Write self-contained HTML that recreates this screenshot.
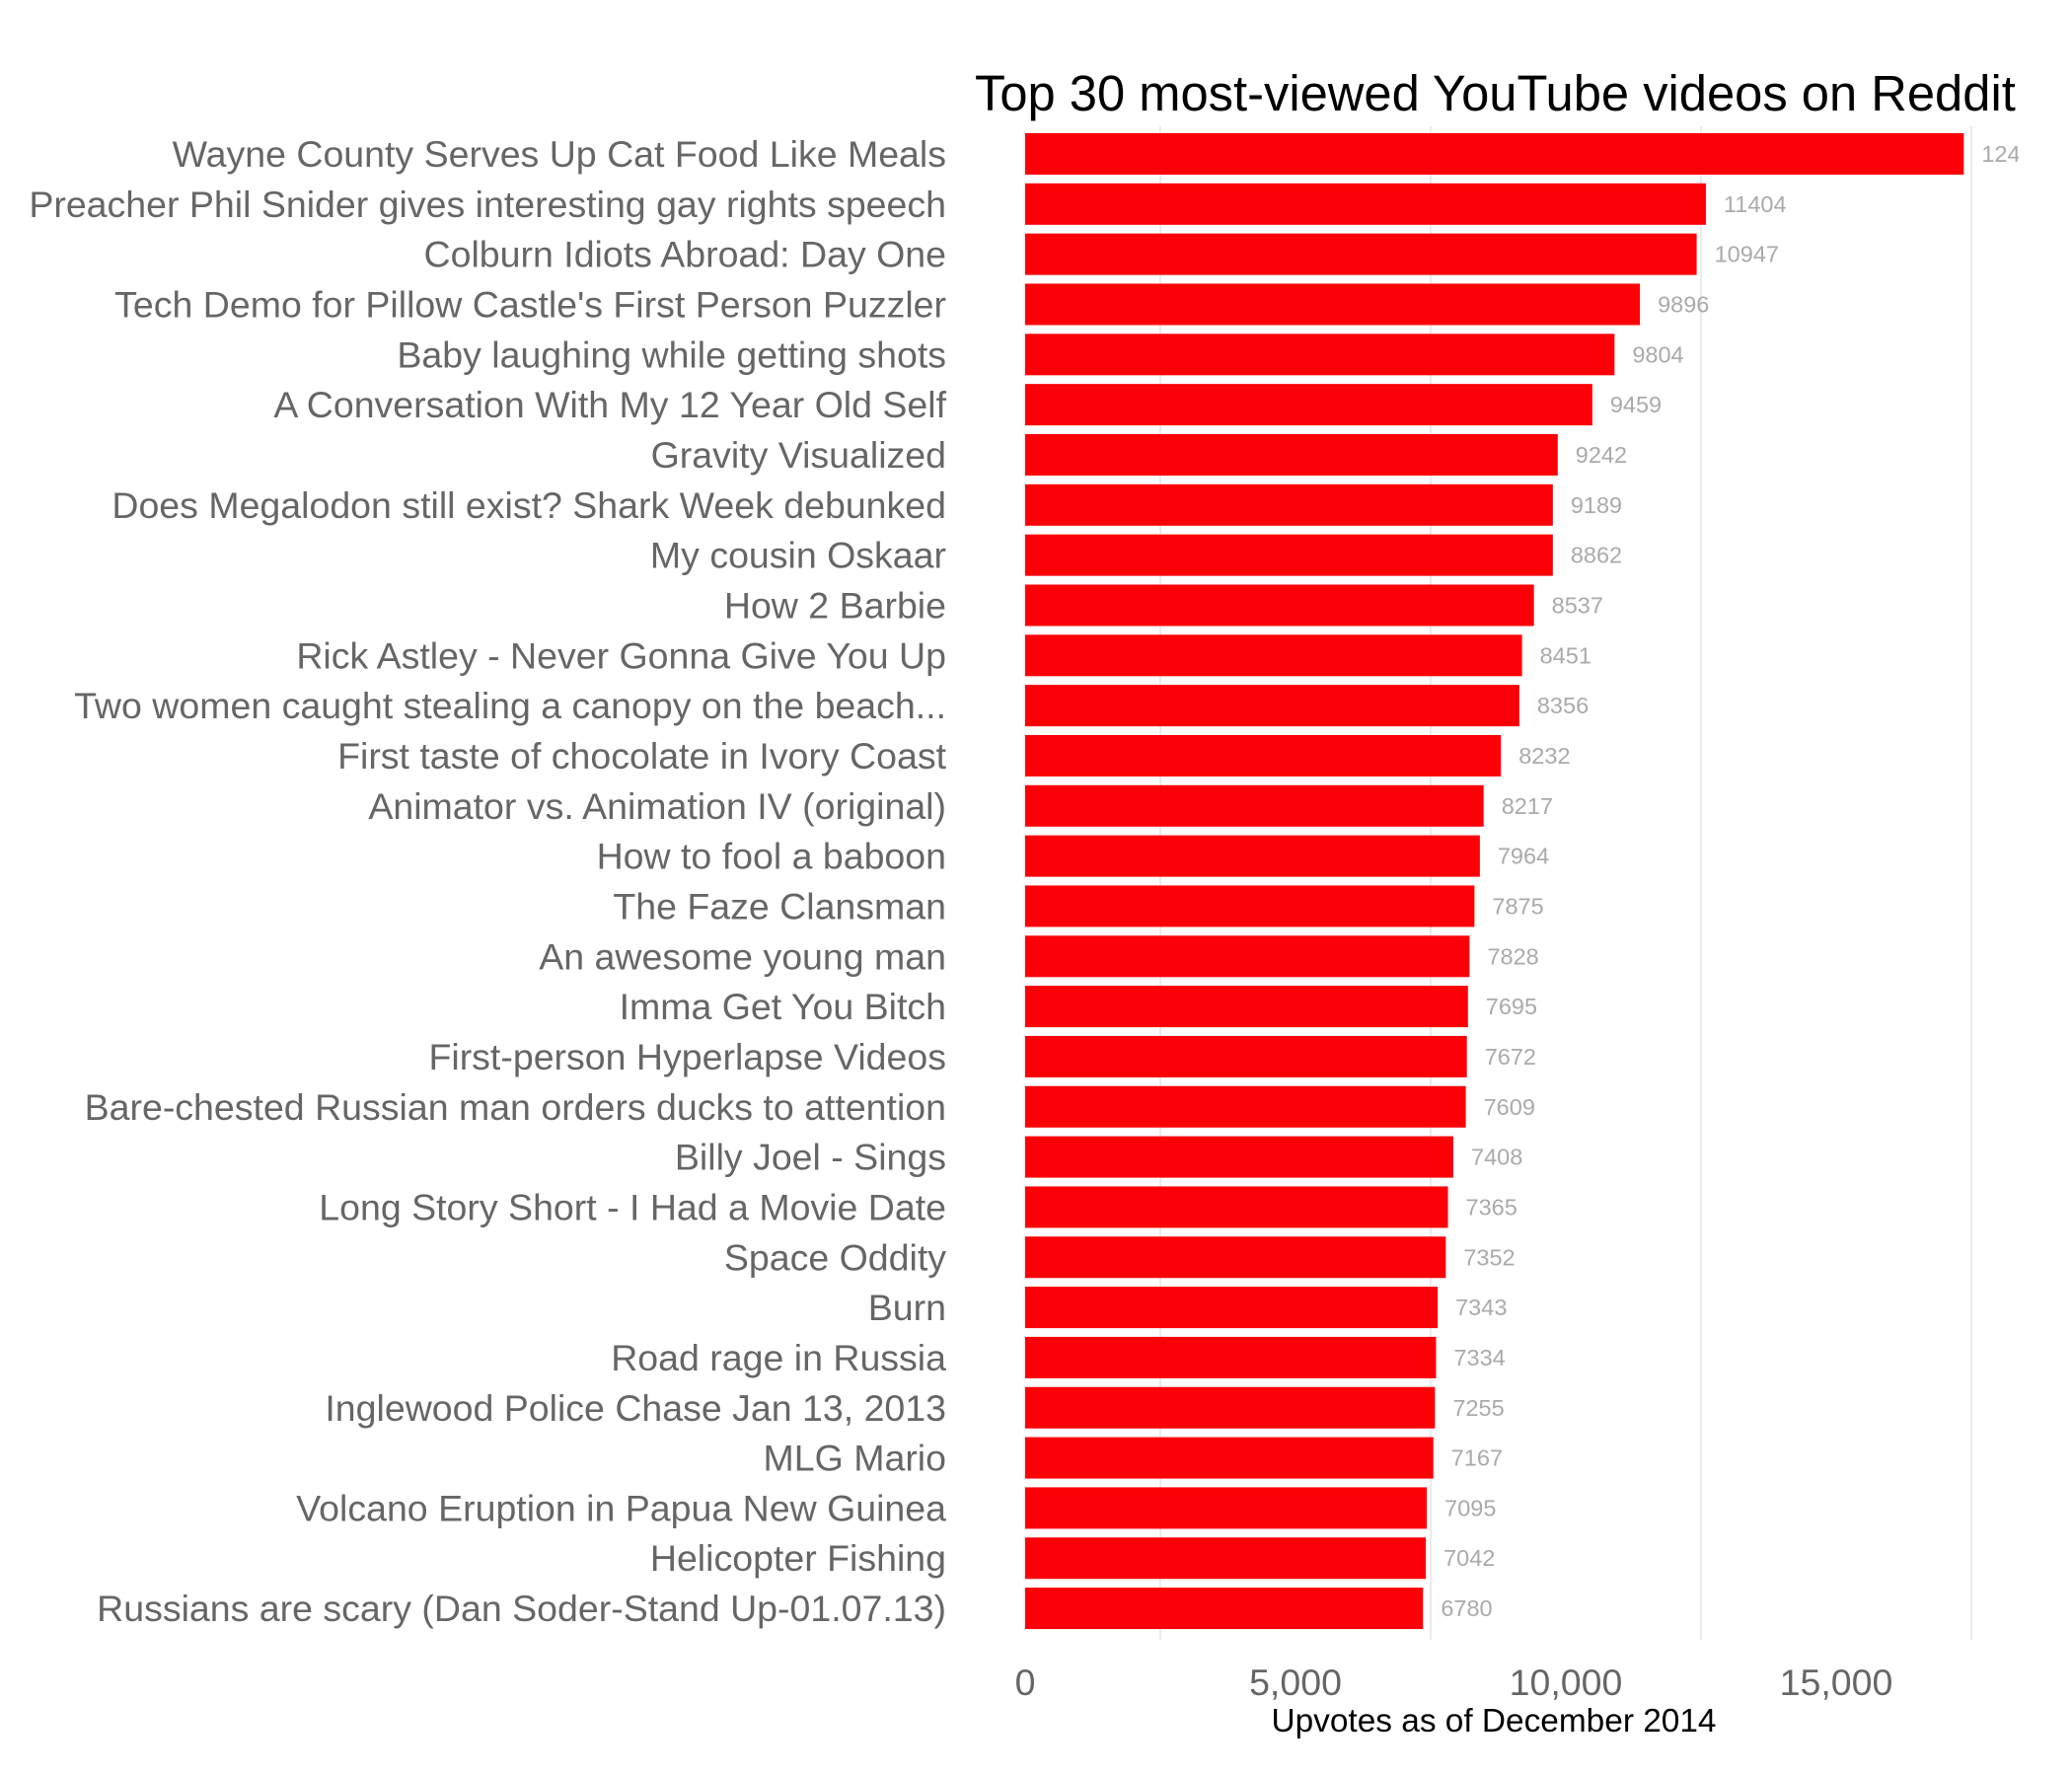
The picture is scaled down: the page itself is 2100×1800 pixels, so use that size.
<!DOCTYPE html>
<html><head><meta charset="utf-8"><style>
html,body{margin:0;padding:0;background:#fff;}
svg{display:block;font-family:"Liberation Sans",Arial,sans-serif;}
</style></head><body>
<svg id="chart" width="2100" height="1800" viewBox="0 0 2100 1800" xmlns="http://www.w3.org/2000/svg">
<defs><clipPath id="plotclip"><rect x="0" y="0" width="2046" height="1800"/></clipPath></defs>
<text x="988" y="112" font-size="50.7" fill="#000">Top 30 most-viewed YouTube videos on Reddit</text>
<g id="grid"></g>
<g id="bars" clip-path="url(#plotclip)"></g>
<g id="cats"></g>
<g id="xticks"></g>
<text x="1514" y="1755" font-size="33.4" fill="#000" text-anchor="middle">Upvotes as of December 2014</text>
</svg>
<script>
const categories = ["Wayne County Serves Up Cat Food Like Meals","Preacher Phil Snider gives interesting gay rights speech","Colburn Idiots Abroad: Day One","Tech Demo for Pillow Castle's First Person Puzzler","Baby laughing while getting shots","A Conversation With My 12 Year Old Self","Gravity Visualized","Does Megalodon still exist? Shark Week debunked","My cousin Oskaar","How 2 Barbie","Rick Astley - Never Gonna Give You Up","Two women caught stealing a canopy on the beach...","First taste of chocolate in Ivory Coast","Animator vs. Animation IV (original)","How to fool a baboon","The Faze Clansman","An awesome young man","Imma Get You Bitch","First-person Hyperlapse Videos","Bare-chested Russian man orders ducks to attention","Billy Joel - Sings","Long Story Short - I Had a Movie Date","Space Oddity","Burn","Road rage in Russia","Inglewood Police Chase Jan 13, 2013","MLG Mario","Volcano Eruption in Papua New Guinea","Helicopter Fishing","Russians are scary (Dan Soder-Stand Up-01.07.13)"];
const barValues = [17360,12590,12420,11370,10900,10490,9850,9760,9760,9410,9190,9140,8800,8480,8410,8310,8220,8190,8170,8150,7920,7820,7780,7630,7600,7580,7550,7430,7410,7360];
const labelValues = [12400,11404,10947,9896,9804,9459,9242,9189,8862,8537,8451,8356,8232,8217,7964,7875,7828,7695,7672,7609,7408,7365,7352,7343,7334,7255,7167,7095,7042,6780];
const majorTicks = [0,5000,10000,15000];
const tickLabels = ["0","5,000","10,000","15,000"];
const minorGrid = [2500,7500,12500,17500];

const NS="http://www.w3.org/2000/svg";
const x0=1039, pxPer=274/5000;
function xs(v){return x0+v*pxPer;}
const top0=135, pitch=50.83, bh=42;
function ys(i){return top0+i*pitch;}
function mk(tag,attrs,parent){const e=document.createElementNS(NS,tag);for(const k in attrs)e.setAttribute(k,attrs[k]);parent.appendChild(e);return e;}
const grid=document.getElementById('grid'),bars=document.getElementById('bars'),cats=document.getElementById('cats'),xt=document.getElementById('xticks');
minorGrid.forEach(v=>{
  const l=mk('line',{x1:xs(v),x2:xs(v),y1:128,y2:1662,stroke:'#ebebeb','stroke-width':2},grid);
  
  
});
categories.forEach((c,i)=>{
  const r=mk('rect',{x:x0,y:ys(i),width:xs(barValues[i])-x0,height:bh,fill:'#fc0007'},bars);
  
  
  const t=mk('text',{x:xs(barValues[i])+18,y:ys(i)+bh/2+8,'font-size':23.5,fill:'#aaaaaa'},bars);
  t.textContent=String(labelValues[i]);
  
  
  const ct=mk('text',{x:959,y:ys(i)+bh/2+13,'font-size':37.5,fill:'#666666','text-anchor':'end'},cats);
  ct.textContent=c;
  
  
});
majorTicks.forEach((v,i)=>{
  const t=mk('text',{x:xs(v),y:1718,'font-size':37.5,fill:'#666666','text-anchor':'middle'},xt);
  t.textContent=tickLabels[i];
  
  
});
</script>
</body></html>
